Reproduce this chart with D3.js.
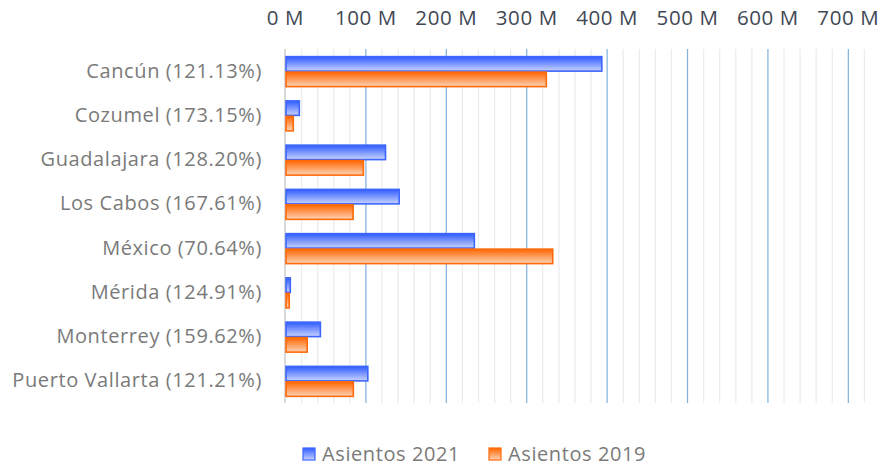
<!DOCTYPE html>
<html>
<head>
<meta charset="utf-8">
<script src="https://cdn.jsdelivr.net/npm/d3@7"></script>
<style>
  body { margin: 0; background: #ffffff; }
  text { font-family: "Open Sans", sans-serif; }
</style>
</head>
<body>
<div id="grafiekContainer"></div>
<script>

// data uit de grafiek
var steden = ["Cancún (121.13%)", "Cozumel (173.15%)", "Guadalajara (128.20%)",
              "Los Cabos (167.61%)", "México (70.64%)", "Mérida (124.91%)",
              "Monterrey (159.62%)", "Puerto Vallarta (121.21%)"];
var asientos2021 = [394, 17.8, 125, 142, 235.5, 6.6, 44, 103];
var asientos2019 = [325, 10.3, 97.5, 84.7, 333, 5.3, 27.6, 85];
var reeksen = ["Asientos 2021", "Asientos 2019"];
var asTicks = [0, 100, 200, 300, 400, 500, 600, 700];

var breedte = 882;
var hoogte = 466;

// marges vast leggen
var marge = {boven: 49, beneden: 63, rechts: 2, links: 285};

var svg = d3.select("#grafiekContainer")
            .append("svg")
            .attr("width", breedte)
            .attr("height", hoogte);

// kleurverlopen voor de balken
var defs = svg.append("defs");
var verlopen = [["blauwVerloop", "#2f5cff", "#c9d3ff"], ["oranjeVerloop", "#ff6600", "#ffd3b5"]];
verlopen.forEach(function(v) {
  var g = defs.append("linearGradient")
              .attr("id", v[0])
              .attr("x1", 0).attr("y1", 0)
              .attr("x2", 0).attr("y2", 1);
  g.append("stop").attr("offset", "0%").attr("stop-color", v[1]);
  g.append("stop").attr("offset", "100%").attr("stop-color", v[2]);
});

// schaalfuncties
var x = d3.scaleLinear()
          .domain([0, 740])
          .range([marge.links, breedte - marge.rechts]);

var y = d3.scaleBand()
          .domain(steden)
          .range([marge.boven, hoogte - marge.beneden])
          .paddingInner(0.3)
          .paddingOuter(0.15);

var yReeks = d3.scaleBand()
               .domain(reeksen)
               .range([0, y.bandwidth()]);

// kleine rasterlijnen
svg.append("g")
   .selectAll("line")
   .data(d3.range(20, 740, 20).filter(function(d) { return d % 100 != 0; }))
   .enter()
   .append("line")
   .attr("x1", function(d) { return x(d) + 0.5; })
   .attr("x2", function(d) { return x(d) + 0.5; })
   .attr("y1", marge.boven)
   .attr("y2", hoogte - marge.beneden)
   .attr("stroke", "#ececec")
   .attr("stroke-width", 1.3);

// grote rasterlijnen
svg.append("g")
   .selectAll("line")
   .data(asTicks.slice(1))
   .enter()
   .append("line")
   .attr("x1", function(d) { return x(d) + 0.5; })
   .attr("x2", function(d) { return x(d) + 0.5; })
   .attr("y1", marge.boven)
   .attr("y2", hoogte - marge.beneden)
   .attr("stroke", "#7fb0dc")
   .attr("stroke-width", 1.2);

// nul lijn
svg.append("line")
   .attr("x1", x(0))
   .attr("x2", x(0))
   .attr("y1", marge.boven)
   .attr("y2", hoogte - marge.beneden)
   .attr("stroke", "#d9d9d9")
   .attr("stroke-width", 2);

// x-as bovenaan
var asX = d3.axisTop(x)
            .tickValues(asTicks)
            .tickSize(0)
            .tickFormat(function(d) { return d + " M"; });

var asXg = svg.append("g")
              .attr("class", "xAs")
              .attr("transform", "translate(0," + 28 + ")")
              .call(asX);
asXg.select(".domain").remove();
asXg.selectAll("text")
    .attr("font-size", "20.5px")
    .attr("letter-spacing", "0.6px")
    .attr("fill", "#3f4854")
    .attr("font-family", "Open Sans, sans-serif");

// y-as met categorieën
var asY = d3.axisLeft(y).tickSize(0).tickPadding(23);
var asYg = svg.append("g")
              .attr("class", "yAs")
              .attr("transform", "translate(" + marge.links + ",0)")
              .call(asY);
asYg.select(".domain").remove();
asYg.selectAll("text")
    .attr("font-size", "20px")
    .attr("letter-spacing", "0.6px")
    .attr("fill", "#7a7a7a")
    .attr("font-family", "Open Sans, sans-serif");

// balken tekenen
var balkData = [];
steden.forEach(function(s, i) {
  balkData.push({stad: s, reeks: reeksen[0], waarde: asientos2021[i]});
  balkData.push({stad: s, reeks: reeksen[1], waarde: asientos2019[i]});
});

svg.append("g")
   .selectAll("rect")
   .data(balkData)
   .enter()
   .append("rect")
   .attr("x", x(0) + 1)
   .attr("y", function(d) { return y(d.stad) + yReeks(d.reeks) + 1; })
   .attr("width", function(d) { return Math.max(x(d.waarde) - x(0) - 1, 1); })
   .attr("height", yReeks.bandwidth() - 1)
   .attr("fill", function(d) {
     return d.reeks == reeksen[0] ? "url(#blauwVerloop)" : "url(#oranjeVerloop)"; })
   .attr("stroke", function(d) {
     return d.reeks == reeksen[0] ? "#3d66ff" : "#ff6a0a"; })
   .attr("stroke-width", 1.6);

// legenda
var legenda = svg.append("g")
                 .attr("transform", "translate(0," + 447 + ")");
var legX = [303, 489];
reeksen.forEach(function(r, i) {
  legenda.append("rect")
         .attr("x", legX[i])
         .attr("y", 1)
         .attr("width", 12)
         .attr("height", 12)
         .attr("fill", i == 0 ? "url(#blauwVerloop)" : "url(#oranjeVerloop)")
         .attr("stroke", i == 0 ? "#3d66ff" : "#ff6a0a")
         .attr("stroke-width", 1.2);
  legenda.append("text")
         .attr("x", legX[i] + 19)
         .attr("y", 14)
         .attr("font-size", "20px")
         .attr("letter-spacing", "0.6px")
         .attr("fill", "#7a7a7a")
         .text(r);
});

</script>
</body>
</html>
